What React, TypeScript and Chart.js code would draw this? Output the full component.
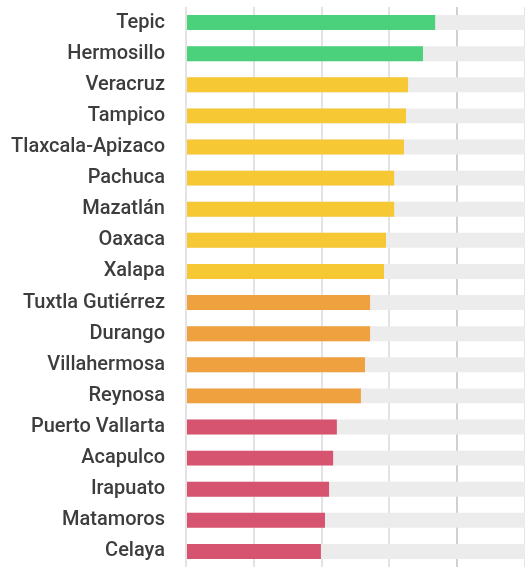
import React, { useEffect, useRef } from "react";
import { Chart, registerables } from "chart.js";

Chart.register(...registerables);

const cities = [
  "Tepic", "Hermosillo", "Veracruz", "Tampico", "Tlaxcala-Apizaco", "Pachuca",
  "Mazatlán", "Oaxaca", "Xalapa", "Tuxtla Gutiérrez", "Durango", "Villahermosa",
  "Reynosa", "Puerto Vallarta", "Acapulco", "Irapuato", "Matamoros", "Celaya",
];
const values = [
  73.5, 69.9, 65.5, 64.9, 64.3, 61.4, 61.4, 59.0, 58.4, 54.3, 54.3, 52.8, 51.6,
  44.5, 43.4, 42.2, 41.0, 39.8,
];
const groups = [
  "green", "green", "yellow", "yellow", "yellow", "yellow", "yellow", "yellow", "yellow",
  "orange", "orange", "orange", "orange", "red", "red", "red", "red", "red",
];
const maxValue = 100;

const palette: Record<string, string> = {
  green: "#4bd07b",
  yellow: "#f5c834",
  orange: "#f0a13f",
  red: "#d75470",
};

export default function App() {
  const ref = useRef<HTMLCanvasElement>(null);
  useEffect(() => {
    if (!ref.current) return;
    const chart = new Chart(ref.current, {
      type: "bar",
      data: {
        labels: cities,
        datasets: [
          {
            data: values,
            backgroundColor: groups.map((g) => palette[g]),
            barPercentage: 0.96,
            categoryPercentage: 0.5,
            grouped: false,
            order: 1,
          },
          {
            data: cities.map(() => maxValue),
            backgroundColor: "#ececec",
            barPercentage: 0.96,
            categoryPercentage: 0.5,
            grouped: false,
            order: 2,
          },
        ],
      },
      options: {
        indexAxis: "y",
        animation: false,
        responsive: false,
        layout: { padding: { top: 7, bottom: 0, right: 0, left: 0 } },
        plugins: { legend: { display: false }, tooltip: { enabled: false } },
        scales: {
          x: {
            min: 0,
            max: maxValue,
            ticks: { display: false, stepSize: 20 },
            border: { display: false },
            grid: {
              drawTicks: false,
              lineWidth: 2,
              color: (ctx: any) => (ctx.tick && ctx.tick.value === 80 ? "#d0d0d0" : "#e3e3e3"),
            },
            afterFit: (scale: any) => {
              scale.height = 0;
              scale.paddingLeft = 0;
              scale.paddingRight = 0;
            },
          },
          y: {
            border: { display: false },
            grid: { display: false, drawTicks: false },
            ticks: {
              padding: 21,
              color: "#3d3d3d",
              font: { family: "Roboto", weight: 500, size: 20 },
            },
            afterFit: (scale: any) => {
              scale.width = 186;
              scale.paddingTop = 0;
              scale.paddingBottom = 0;
            },
          },
        },
      },
    });
    return () => chart.destroy();
  }, []);
  return (
    <div style={{ position: "fixed", left: 0, top: 0, width: 525, height: 567 }}>
      <canvas ref={ref} width={525} height={567} />
    </div>
  );
}
